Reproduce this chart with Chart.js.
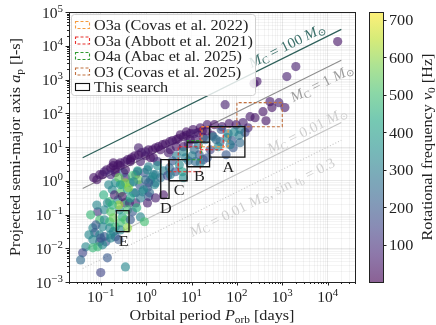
<!DOCTYPE html>
<html>
<head>
<meta charset="utf-8">
<script src="https://cdn.jsdelivr.net/npm/chart.js@4.4.1/dist/chart.umd.min.js"></script>
<style>
html, body { margin: 0; padding: 0; background: #fff; }
canvas { display: block; }
</style>
</head>
<body>
<canvas id="c" width="436" height="325"></canvas>
<script>
// binary pulsars: orbital period [days], a_p [l-s], spin frequency [Hz]
const period = [
  16600, 1990, 1260, 277, 238, 55, 535, 842, 592, 1140,
  376, 195, 251, 437, 137, 96, 67, 47, 32, 176,
  151, 117, 87, 64, 45, 22, 14.1, 9.4, 6.6, 4.6,
  3.3, 2.3, 1.61, 1.13, 0.79, 0.56, 0.39, 0.27, 0.19, 0.135,
  0.095, 0.070, 1.45, 3.1, 6.6, 12.1, 18.2, 28.6, 2.07, 0.97,
  0.45, 0.21, 0.68, 4.64, 9.42, 5.68, 0.65, 1.13, 1.78, 20.1,
  30.1, 42.8, 61, 78.5, 112, 117, 82.6, 38.7, 57.9, 25.8,
  14.1, 11.5, 14.8, 10.4, 18.2, 8.51, 6.61, 4.64, 3.79, 5.40,
  3.26, 2.41, 4.42, 6.28, 1.78, 1.45, 2.07, 2.95, 2.41, 6.61,
  0.11, 0.21, 0.35, 0.59, 0.92, 1.25, 1.61, 0.21, 0.30, 0.45,
  0.72, 1.07, 1.53, 0.18, 0.27, 0.39, 0.59, 0.83, 1.19, 0.157,
  0.24, 0.34, 0.39, 0.43, 0.20, 0.14, 0.30, 0.086, 0.12, 0.166,
  0.26, 0.39, 0.50, 0.75, 0.92, 0.30, 0.35, 0.45, 0.27, 0.095,
  0.12, 0.157, 0.11, 0.157, 0.21, 0.27, 0.39, 0.067, 0.074, 0.095,
  0.12, 0.166, 0.21, 0.095, 0.13, 0.067, 0.047, 0.040, 0.067, 0.086,
  0.11, 0.10, 0.166, 0.14, 0.35, 0.10, 0.19, 0.27, 0.45, 0.32,
  0.50, 0.65, 1.07, 1.38, 1.61, 1.13, 0.53, 0.88, 1.13, 1.61,
  1.07, 0.59, 0.35, 0.25, 0.68, 15.6, 22.2, 10.9, 7.69, 15.6, 22.2,
  0.082, 0.12, 0.166, 0.24, 0.34, 0.48, 0.68, 0.97, 1.38, 1.87,
  2.66, 3.79, 5.1, 7.69, 11.5, 17.3, 0.166, 0.35, 0.75, 1.25,
  3.4, 8.51, 0.116, 0.15, 0.25, 0.41, 0.53, 0.75, 0.18, 0.082,
  0.060, 0.19, 0.62, 0.055, 0.078, 0.25, 0.19, 0.036, 0.27, 0.45,
  0.97, 7.3, 12.1, 3.4, 35, 71
];
const semiAxis = [
  13300, 2420, 1220, 867, 756, 180, 221, 206, 147, 147,
  111, 79, 74, 60, 53, 46, 49, 40, 46, 37,
  27, 33, 28, 25, 33, 30, 27, 25, 20, 16.5,
  14.4, 11.7, 9.5, 8.3, 6.8, 5.5, 4.2, 3.4, 2.8, 2.1,
  1.51, 1.23, 4.8, 6.8, 10.2, 16.5, 19, 22, 8.3, 5.5,
  3.7, 2.1, 9.5, 10.2, 16.5, 23, 1.85, 2.6, 3.7, 16.5,
  20, 14.4, 19, 15.4, 22, 13.4, 9.5, 10.2, 5.9, 8.3,
  11.7, 8.3, 5.9, 5.5, 4.2, 3.9, 7.2, 5.5, 3.9, 3.0,
  2.4, 1.98, 1.85, 1.85, 2.8, 1.51, 1.23, 1.41, 0.38, 1.23,
  1.51, 1.73, 1.23, 1.51, 1.73, 1.07, 1.51, 0.87, 0.76, 0.87,
  0.76, 0.62, 0.76, 0.54, 0.44, 0.54, 0.44, 0.47, 0.44, 0.24,
  0.27, 0.22, 0.24, 0.22, 0.38, 0.22, 0.34, 0.12, 0.138, 0.12,
  0.138, 0.138, 0.12, 0.085, 0.061, 0.085, 0.070, 0.070, 0.057, 0.070,
  0.070, 0.061, 0.043, 0.040, 0.043, 0.035, 0.040, 0.040, 0.029, 0.025,
  0.022, 0.025, 0.022, 0.0155, 0.0155, 0.018, 0.011, 0.0073, 0.0103, 0.011,
  0.0126, 0.020, 0.020, 0.0052, 0.0028, 0.0019, 3.4, 2.8, 4.2, 1.73,
  1.41, 1.98, 2.1, 1.31, 0.87, 0.87, 0.44, 0.54, 0.34, 0.31,
  0.22, 0.22, 0.87, 0.19, 1.07, 37, 46, 33, 28, 3.4, 4.8,
  1.07, 1.85, 2.4, 3.0, 3.7, 4.8, 5.9, 7.2, 8.3, 10.2,
  12.5, 15.4, 17.6, 22, 25, 30, 1.51, 2.1, 3.7, 4.8,
  8.3, 12.5, 0.38, 0.76, 1.23, 0.62, 0.93, 0.31, 0.19, 0.19,
  0.098, 0.080, 0.158, 0.025, 0.049, 0.018, 0.031, 0.0045, 0.76, 0.31,
  1.07, 4.8, 3.7, 1.51, 16.5, 11.7
];
const spinFreq = [
  40, 60, 60, 50, 50, 60, 50, 60, 40, 50,
  40, 50, 40, 40, 60, 40, 50, 50, 40, 60,
  150, 300, 330, 300, 200, 40, 40, 40, 40, 40,
  40, 40, 40, 40, 40, 40, 40, 40, 40, 40,
  40, 40, 40, 60, 40, 50, 40, 60, 40, 40,
  40, 40, 60, 40, 40, 40, 150, 300, 100, 250,
  300, 250, 330, 200, 300, 250, 200, 330, 200, 150,
  300, 250, 200, 300, 150, 250, 330, 300, 200, 350,
  250, 300, 200, 400, 350, 300, 250, 150, 40, 350,
  40, 40, 60, 150, 200, 330, 300, 350, 500, 350,
  200, 180, 330, 330, 520, 380, 200, 330, 250, 500,
  330, 60, 480, 120, 60, 330, 40, 120, 330, 520,
  330, 500, 200, 330, 500, 430, 520, 200, 500, 500,
  330, 480, 330, 330, 480, 330, 600, 330, 200, 330,
  200, 330, 200, 150, 200, 330, 330, 150, 480, 480,
  330, 200, 330, 200, 330, 150, 40, 40, 40, 200,
  500, 400, 330, 330, 300, 200, 350, 330, 200, 60,
  60, 60, 600, 620, 560, 40, 50, 40, 40, 300, 200,
  40, 60, 40, 40, 50, 40, 40, 60, 40, 40,
  40, 50, 40, 40, 60, 40, 80, 40, 60, 40,
  50, 60, 450, 330, 550, 600, 330, 300, 450, 330,
  480, 560, 450, 330, 200, 200, 330, 250, 380, 400,
  250, 300, 250, 300, 250, 300
];

// search regions [Pmin, Pmax] x [a_min, a_max]
const searchNames = ['A', 'B', 'C', 'D', 'E'];
const searchP = [[25, 150], [8, 25], [3.2, 8], [2.1, 3.2], [0.22, 0.42]];
const searchA = [[5, 40], [2.6, 14], [1, 4.2], [0.3, 4.2], [0.031, 0.13]];
const abbottP = [[15.6, 50], [5.1, 15.6], [3.1, 5.1]];
const abbottA = [[8.3, 40], [1.85, 10.2], [1.85, 4.2]];
const covas22P = [[17, 64]];
const covas22A = [[10.2, 40]];
const abacP = [[8.1, 16.4]];
const abacA = [[4.2, 15.4]];
const covas25P = [[100, 1000]];
const covas25A = [[40, 206]];

// companion-mass reference lines, end points
const massLineP = [0.04, 20000];
const mass100A = [4.8, 30400];
const mass1A = [0.59, 3690];
const mass001A = [0.0084, 53];
const mass001sinA = [0.00252, 15.9];

const xDecades = [-1, 0, 1, 2, 3, 4];
const yDecades = [-3, -2, -1, 0, 1, 2, 3, 4, 5];
const cbarTicks = [100, 200, 300, 400, 500, 600, 700];
const cMin = 1, cMax = 720;

const legendLabels = ['O3a (Covas et al. 2022)', 'O3a (Abbott et al. 2021)', 'O4a (Abac et al. 2025)', 'O3 (Covas et al. 2025)', 'This search'];
const legendColors = ['#f59b3f', '#e8302c', '#2f9a2f', '#c0703f', '#111111'];

const serif = '"Liberation Serif", "DejaVu Serif", serif';
const SX = 1.08; // Computer Modern runs a little wider than Times
function font(size, italic) { return (italic ? 'italic ' : '') + size + 'px ' + serif; }

const viridisStops = ['#440154', '#482475', '#414487', '#355f8d', '#2a788e', '#21918c', '#22a884', '#44bf70', '#7ad151', '#bddf26', '#fde725'];
function hex(h) { return [parseInt(h.substr(1, 2), 16), parseInt(h.substr(3, 2), 16), parseInt(h.substr(5, 2), 16)]; }
function viridis(v, alpha) {
  let t = (v - cMin) / (cMax - cMin);
  t = Math.max(0, Math.min(1, t));
  const s = t * 10, i = Math.min(9, Math.floor(s)), f = s - i;
  const a = hex(viridisStops[i]), b = hex(viridisStops[i + 1]);
  const c = a.map((x, k) => Math.round(x + (b[k] - x) * f));
  return 'rgba(' + c[0] + ',' + c[1] + ',' + c[2] + ',' + alpha + ')';
}

function isMajor(v) { const l = Math.log10(v); return Math.abs(l - Math.round(l)) < 1e-6; }
function logTicks(min, max) {
  const t = [];
  for (let e = Math.floor(Math.log10(min)); e <= Math.ceil(Math.log10(max)); e++) {
    for (let k = 1; k < 10; k++) {
      const v = k * Math.pow(10, e);
      if (v >= min * 0.999 && v <= max * 1.001) t.push({ value: v });
    }
  }
  return t;
}
function gridColor(ctx) {
  if (!ctx.tick) return 'rgba(0,0,0,0)';
  return isMajor(ctx.tick.value) ? 'rgba(0,0,0,0.11)' : 'rgba(0,0,0,0.055)';
}

function rectSet(p, a, color, dash, width) {
  return {
    data: [{ x: p[0], y: a[0] }, { x: p[1], y: a[0] }, { x: p[1], y: a[1] }, { x: p[0], y: a[1] }, { x: p[0], y: a[0] }],
    showLine: true, pointRadius: 0, borderColor: color, borderDash: dash, borderWidth: width, fill: false, order: 0
  };
}
function lineSet(a, color, dash, width) {
  return {
    data: [{ x: massLineP[0], y: a[0] }, { x: massLineP[1], y: a[1] }],
    showLine: true, pointRadius: 0, borderColor: color, borderDash: dash, borderWidth: width, order: 2
  };
}

const points = period.map((p, i) => ({ x: p, y: semiAxis[i] }));
const pointColors = spinFreq.map(f => viridis(f, 0.62));

const datasets = [];
searchP.forEach((p, i) => datasets.push(rectSet(p, searchA[i], legendColors[4], [], 1.3)));
covas22P.forEach((p, i) => datasets.push(rectSet(p, covas22A[i], legendColors[0], [3, 2], 1.1)));
abbottP.forEach((p, i) => datasets.push(rectSet(p, abbottA[i], legendColors[1], [3, 2], 1.1)));
abacP.forEach((p, i) => datasets.push(rectSet(p, abacA[i], legendColors[2], [3, 2], 1.1)));
covas25P.forEach((p, i) => datasets.push(rectSet(p, covas25A[i], legendColors[3], [3, 2], 1.1)));
datasets.push({ data: points, backgroundColor: pointColors, borderWidth: 0, pointRadius: 4.6, order: 1 });
datasets.push(lineSet(mass100A, '#2f615b', [], 1.3));
datasets.push(lineSet(mass1A, '#8e8e8e', [], 1.1));
datasets.push(lineSet(mass001A, '#c4c4c4', [], 1.1));
datasets.push(lineSet(mass001sinA, '#c4c4c4', [1, 2], 1.1));

function drawRich(ctx, parts, x, y, align, sx) {
  sx = sx || 1;
  let w = 0;
  parts.forEach(p => { ctx.font = p.f; p.w = ctx.measureText(p.t).width * sx; w += p.w; });
  let cx = align === 'center' ? x - w / 2 : align === 'right' ? x - w : x;
  ctx.textAlign = 'left';
  parts.forEach(p => {
    ctx.save();
    ctx.font = p.f;
    ctx.translate(cx, y + (p.dy || 0));
    ctx.scale(sx, 1);
    ctx.fillText(p.t, 0, 0);
    ctx.restore();
    cx += p.w;
  });
}
function powParts(e) {
  return [{ t: '10', f: font(15) }, { t: String(e).replace('-', '\u2212'), f: font(10.5), dy: -6 }];
}
function mcParts(val, size) {
  return [
    { t: 'M', f: font(size, true) }, { t: 'C', f: font(size * 0.7), dy: 2.5 },
    { t: ' = ' + val + ' ', f: font(size) },
    { t: 'M', f: font(size, true) }, { t: '\u2299', f: font(size * 0.7), dy: 2.5 }
  ];
}

const lineLabels = [
  { P: 1250, a: 10500, line: mass100A, color: '#3b6f69', parts: mcParts('100', 14.5) },
  { P: 7400, a: 810, line: mass1A, color: '#9d9d9d', parts: mcParts('1', 14.5) },
  { P: 3500, a: 32, line: mass001A, color: '#d0d0d0', parts: mcParts('0.01', 14.5) },
  { P: 355, a: 0.33, line: mass001sinA, color: '#d0d0d0', parts: mcParts('0.01', 14.5).concat([
      { t: ', sin ', f: font(14.5) }, { t: '\u03b9', f: font(14.5, true) }, { t: 'b', f: font(10), dy: 2.5 },
      { t: ' = 0.3', f: font(14.5) }]) }
];

const deco = {
  id: 'deco',
  afterDatasetsDraw(chart) {
    const ctx = chart.ctx, area = chart.chartArea;
    const xs = chart.scales.x, ys = chart.scales.y;
    ctx.save();

    // frame and ticks
    ctx.strokeStyle = '#222';
    ctx.lineWidth = 1;
    ctx.strokeRect(Math.round(area.left) + 0.5, Math.round(area.top) + 0.5, Math.round(area.right - area.left), Math.round(area.bottom - area.top));
    ctx.beginPath();
    xs.ticks.forEach(t => {
      const px = Math.round(xs.getPixelForValue(t.value)) + 0.5, len = isMajor(t.value) ? 3.5 : 2;
      ctx.moveTo(px, area.bottom); ctx.lineTo(px, area.bottom + len);
    });
    ys.ticks.forEach(t => {
      const py = Math.round(ys.getPixelForValue(t.value)) + 0.5, len = isMajor(t.value) ? 3.5 : 2;
      ctx.moveTo(area.left, py); ctx.lineTo(area.left - len, py);
    });
    ctx.stroke();

    ctx.fillStyle = '#222';
    xDecades.forEach(e => drawRich(ctx, powParts(e), xs.getPixelForValue(Math.pow(10, e)), area.bottom + 20, 'center', 1.04));
    yDecades.forEach(e => drawRich(ctx, powParts(e), area.left - 6, ys.getPixelForValue(Math.pow(10, e)) + 5.5, 'right', 1.04));

    // box labels
    ctx.textBaseline = 'top';
    searchNames.forEach((n, i) => {
      const px = xs.getPixelForValue(Math.sqrt(searchP[i][0] * searchP[i][1]));
      const py = ys.getPixelForValue(searchA[i][0]);
      drawRich(ctx, [{ t: n, f: font(15) }], px + 1, py + 3, 'center', SX);
    });
    ctx.textBaseline = 'alphabetic';

    // line labels
    lineLabels.forEach(l => {
      const x1 = xs.getPixelForValue(massLineP[0]), y1 = ys.getPixelForValue(l.line[0]);
      const x2 = xs.getPixelForValue(massLineP[1]), y2 = ys.getPixelForValue(l.line[1]);
      ctx.save();
      ctx.translate(xs.getPixelForValue(l.P), ys.getPixelForValue(l.a));
      ctx.rotate(Math.atan2(y2 - y1, x2 - x1));
      ctx.fillStyle = l.color;
      drawRich(ctx, l.parts, 0, 5, 'center', 1.04);
      ctx.restore();
    });

    // legend
    const lx = area.left + 2, ly = area.top + 2, lw = 184, lh = 81;
    ctx.fillStyle = 'rgba(255,255,255,0.82)';
    ctx.strokeStyle = '#d0d0d0';
    ctx.beginPath();
    ctx.roundRect(lx + 0.5, ly + 0.5, lw, lh, 3);
    ctx.fill(); ctx.stroke();
    legendLabels.forEach((lab, i) => {
      const cy = ly + 11 + i * 15.5;
      ctx.strokeStyle = legendColors[i];
      ctx.lineWidth = 1.1;
      ctx.setLineDash(i < 4 ? [3, 2] : []);
      ctx.strokeRect(lx + 4.5, cy - 3.5, 14, 7);
      ctx.setLineDash([]);
      ctx.fillStyle = '#222';
      drawRich(ctx, [{ t: lab, f: font(15) }], lx + 23, cy + 5, 'left', SX);
    });

    // axis titles
    ctx.fillStyle = '#222';
    drawRich(ctx, [{ t: 'Orbital period ', f: font(15) }, { t: 'P', f: font(15, true) }, { t: 'orb', f: font(10.5), dy: 3 }, { t: ' [days]', f: font(15) }],
      (area.left + area.right) / 2, 320, 'center', SX);
    ctx.save();
    ctx.translate(20, (area.top + area.bottom) / 2);
    ctx.rotate(-Math.PI / 2);
    drawRich(ctx, [{ t: 'Projected semi-major axis ', f: font(15) }, { t: 'a', f: font(15, true) }, { t: 'p', f: font(10.5), dy: 3 }, { t: ' [l-s]', f: font(15) }], 0, 0, 'center', SX);
    ctx.restore();

    // colorbar
    const cx0 = 369, cw = 14, ct = area.top, cb = area.bottom;
    const grad = ctx.createLinearGradient(0, cb, 0, ct);
    for (let i = 0; i <= 20; i++) grad.addColorStop(i / 20, viridis(cMin + (cMax - cMin) * i / 20, 0.62));
    ctx.fillStyle = grad;
    ctx.fillRect(cx0, ct, cw, cb - ct);
    ctx.strokeStyle = '#222';
    ctx.lineWidth = 1;
    ctx.strokeRect(cx0 + 0.5, Math.round(ct) + 0.5, cw, Math.round(cb - ct));
    ctx.fillStyle = '#222';
    ctx.beginPath();
    cbarTicks.forEach(v => {
      const py = cb - (v - cMin) / (cMax - cMin) * (cb - ct);
      ctx.moveTo(cx0 + cw, Math.round(py) + 0.5); ctx.lineTo(cx0 + cw + 3.5, Math.round(py) + 0.5);
      drawRich(ctx, [{ t: String(v), f: font(15) }], cx0 + cw + 6, py + 5.5, 'left', SX);
    });
    ctx.stroke();
    ctx.save();
    ctx.translate(432, (ct + cb) / 2);
    ctx.rotate(-Math.PI / 2);
    drawRich(ctx, [{ t: 'Rotational frequency ', f: font(15) }, { t: '\u03bd', f: font(15, true) }, { t: '0', f: font(10.5), dy: 3 }, { t: ' [Hz]', f: font(15) }], 0, 0, 'center', SX);
    ctx.restore();

    ctx.restore();
  }
};

new Chart(document.getElementById('c'), {
  type: 'scatter',
  data: { datasets: datasets },
  options: {
    responsive: false,
    animation: false,
    devicePixelRatio: 1,
    events: [],
    layout: { padding: { top: 12, right: 81, left: 0, bottom: 0 } },
    plugins: { legend: { display: false }, tooltip: { enabled: false } },
    scales: {
      x: {
        type: 'logarithmic', min: 0.02, max: 40000,
        afterBuildTicks: s => { s.ticks = logTicks(s.min, s.max); },
        afterFit: s => { s.height = 43; },
        ticks: { display: false },
        grid: { color: gridColor, drawTicks: false, lineWidth: 0.8 },
        border: { display: false }
      },
      y: {
        type: 'logarithmic', min: 0.001, max: 100000,
        afterBuildTicks: s => { s.ticks = logTicks(s.min, s.max); },
        afterFit: s => { s.width = 69; },
        ticks: { display: false },
        grid: { color: gridColor, drawTicks: false, lineWidth: 0.8 },
        border: { display: false }
      }
    }
  },
  plugins: [deco]
});
</script>
</body>
</html>
